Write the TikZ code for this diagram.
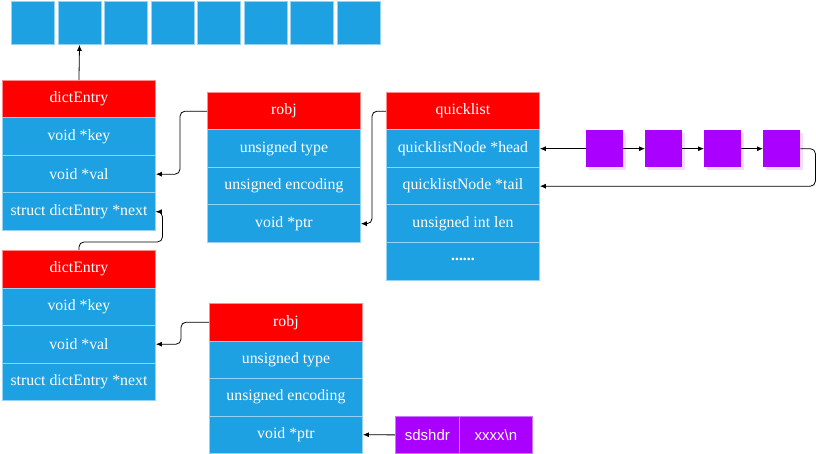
\documentclass[tikz,border=0pt]{standalone}
\usepackage{fontspec}
\setmainfont{Liberation Serif}
\newfontfamily\sdsfont{Liberation Sans}
\usetikzlibrary{arrows.meta}
\definecolor{cellblue}{RGB}{29,161,226}
\definecolor{cellborder}{RGB}{150,210,245}
\definecolor{hdrred}{RGB}{255,0,0}
\definecolor{hdrborder}{RGB}{255,140,140}
\definecolor{vio}{RGB}{170,0,255}
\definecolor{vioshadow}{RGB}{240,220,255}
\begin{document}
\begin{tikzpicture}[x=1pt,y=-1pt,
  cellbox/.style={rectangle,anchor=north west,minimum width=153pt,minimum height=37.5pt,inner sep=0pt,
    fill=cellblue,draw=cellborder,line width=0.9pt,text=white,font=\fontsize{15.8}{17}\selectfont},
  hdrbox/.style={cellbox,fill=hdrred,draw=hdrborder},
  arrsq/.style={rectangle,anchor=north west,minimum width=43pt,minimum height=43pt,inner sep=0pt,
    fill=cellblue,draw=cellborder,line width=0.9pt},
  viosq/.style={rectangle,anchor=north west,minimum width=37pt,minimum height=37pt,inner sep=0pt,fill=vio},
  viosh/.style={rectangle,anchor=north west,minimum width=37pt,minimum height=37pt,inner sep=0pt,fill=vioshadow},
  sdsbox/.style={rectangle,anchor=north west,minimum height=37pt,inner sep=0pt,fill=vio,draw={rgb,255:red,200;green,120;blue,255},
    line width=0.8pt,text=white,font=\sdsfont\fontsize{15}{17}\selectfont},
  conn/.style={draw=black,line width=0.8pt,rounded corners=5pt,-{Latex[length=6pt,width=5pt]}}
]
\useasboundingbox (0,0) rectangle (816,454);
% top array
\foreach \i in {0,...,7} {
  \node[arrsq] (a\i) at ({11+\i*46.57},1) {};
}
% dictEntry 1
\node[hdrbox] (d1h) at (2,80) {dictEntry};
\node[cellbox] (d1k) at (2,117.5) {void *key};
\node[cellbox] (d1v) at (2,155) {void *val};
\node[cellbox] (d1n) at (2,192.5) {struct dictEntry *next};
% robj 1
\node[hdrbox] (r1h) at (207,92) {robj};
\node[cellbox] (r1t) at (207,129.5) {unsigned type};
\node[cellbox] (r1e) at (207,167) {unsigned encoding};
\node[cellbox] (r1p) at (207,204.5) {void *ptr};
% quicklist
\node[hdrbox] (qh) at (386,92) {quicklist};
\node[cellbox] (qhd) at (386,129.5) {quicklistNode *head};
\node[cellbox] (qt) at (386,167) {quicklistNode *tail};
\node[cellbox] (ql) at (386,204.5) {unsigned int len};
\node[cellbox] (qd) at (386,242) {\raisebox{4pt}{\textbf{......}}};
% quicklist nodes
\foreach \i in {1,...,4} {
  \node[viosh] (s\i) at ({586+(\i-1)*59+3},133) {};
  \node[viosq] (p\i) at ({586+(\i-1)*59},130) {};
}
% dictEntry 2
\node[hdrbox] (d2h) at (2,250) {dictEntry};
\node[cellbox] (d2k) at (2,287.5) {void *key};
\node[cellbox] (d2v) at (2,325) {void *val};
\node[cellbox] (d2n) at (2,362.5) {struct dictEntry *next};
% robj 2
\node[hdrbox] (r2h) at (209,303) {robj};
\node[cellbox] (r2t) at (209,340.5) {unsigned type};
\node[cellbox] (r2e) at (209,378) {unsigned encoding};
\node[cellbox] (r2p) at (209,415.5) {void *ptr};
% sdshdr
\node[sdsbox,minimum width=64pt] (sh) at (395,416) {sdshdr};
\node[sdsbox,minimum width=73pt] (sx) at (459,416) {xxxx\textbackslash n};
% connectors
\draw[conn] (d1h.north) -- (a1.south);
\draw[conn] (r1h.west) -- ++(-27,0) |- (d1v.east);
\draw[conn] (qh.west) -- ++(-14,0) |- (r1p.east);
\draw[conn] (d2h.north) -- ++(0,-8) -- ++(83.5,0) |- (d1n.east);
\draw[conn] (p1.west) -- (qhd.east);
\draw[conn] (p1.east) -- (p2.west);
\draw[conn] (p2.east) -- (p3.west);
\draw[conn] (p3.east) -- (p4.west);
\draw[conn] (p4.east) -- ++(15,0) |- (qt.east);
\draw[conn] (r2h.west) -- ++(-28,0) |- (d2v.east);
\draw[conn] (sh.west) -- (r2p.east);
\end{tikzpicture}
\end{document}
